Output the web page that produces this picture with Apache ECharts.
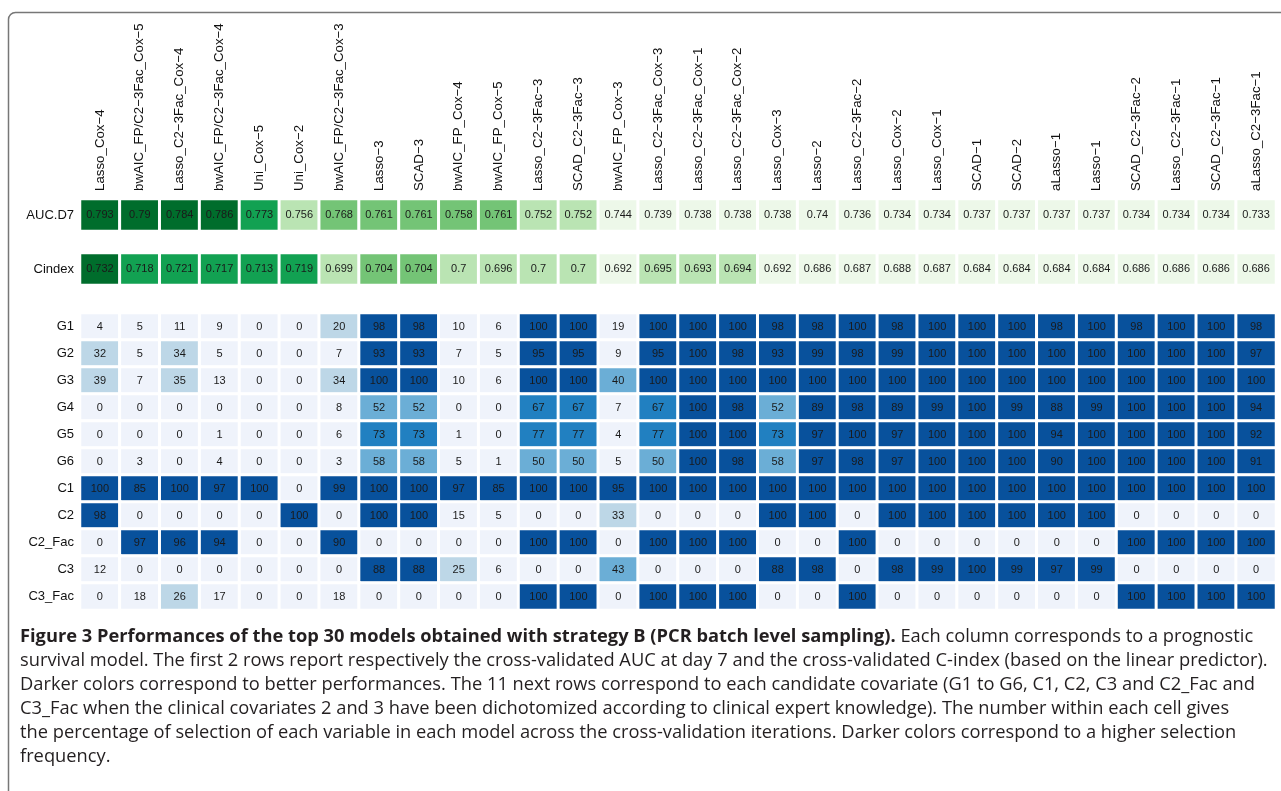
<!DOCTYPE html>
<html>
<head>
<meta charset="utf-8">
<script src="https://cdn.jsdelivr.net/npm/echarts@6/dist/echarts.min.js"></script>
<style>
  html, body { margin: 0; padding: 0; background: #fff; }
  #chart { width: 1281px; height: 791px; }
</style>
</head>
<body>
<div id="chart"></div>
<script>
// column labels (models)
var models = ["Lasso_Cox−4", "bwAIC_FP/C2−3Fac_Cox−5", "Lasso_C2−3Fac_Cox−4", "bwAIC_FP/C2−3Fac_Cox−4",
  "Uni_Cox−5", "Uni_Cox−2", "bwAIC_FP/C2−3Fac_Cox−3", "Lasso−3", "SCAD−3", "bwAIC_FP_Cox−4",
  "bwAIC_FP_Cox−5", "Lasso_C2−3Fac−3", "SCAD_C2−3Fac−3", "bwAIC_FP_Cox−3", "Lasso_C2−3Fac_Cox−3",
  "Lasso_C2−3Fac_Cox−1", "Lasso_C2−3Fac_Cox−2", "Lasso_Cox−3", "Lasso−2", "Lasso_C2−3Fac−2",
  "Lasso_Cox−2", "Lasso_Cox−1", "SCAD−1", "SCAD−2", "aLasso−1", "Lasso−1", "SCAD_C2−3Fac−2",
  "Lasso_C2−3Fac−1", "SCAD_C2−3Fac−1", "aLasso_C2−3Fac−1"];

var aucD7 = [0.793, 0.79, 0.784, 0.786, 0.773, 0.756, 0.768, 0.761, 0.761, 0.758, 0.761, 0.752, 0.752, 0.744,
  0.739, 0.738, 0.738, 0.738, 0.74, 0.736, 0.734, 0.734, 0.737, 0.737, 0.737, 0.737, 0.734, 0.734, 0.734, 0.733];
var cindex = [0.732, 0.718, 0.721, 0.717, 0.713, 0.719, 0.699, 0.704, 0.704, 0.7, 0.696, 0.7, 0.7, 0.692,
  0.695, 0.693, 0.694, 0.692, 0.686, 0.687, 0.688, 0.687, 0.684, 0.684, 0.684, 0.684, 0.686, 0.686, 0.686, 0.686];

// covariate rows
var covariates = ["G1", "G2", "G3", "G4", "G5", "G6", "C1", "C2", "C2_Fac", "C3", "C3_Fac"];
var G1 = [4, 5, 11, 9, 0, 0, 20, 98, 98, 10, 6, 100, 100, 19, 100, 100, 100, 98, 98, 100, 98, 100, 100, 100, 98, 100, 98, 100, 100, 98];
var G2 = [32, 5, 34, 5, 0, 0, 7, 93, 93, 7, 5, 95, 95, 9, 95, 100, 98, 93, 99, 98, 99, 100, 100, 100, 100, 100, 100, 100, 100, 97];
var G3 = [39, 7, 35, 13, 0, 0, 34, 100, 100, 10, 6, 100, 100, 40, 100, 100, 100, 100, 100, 100, 100, 100, 100, 100, 100, 100, 100, 100, 100, 100];
var G4 = [0, 0, 0, 0, 0, 0, 8, 52, 52, 0, 0, 67, 67, 7, 67, 100, 98, 52, 89, 98, 89, 99, 100, 99, 88, 99, 100, 100, 100, 94];
var G5 = [0, 0, 0, 1, 0, 0, 6, 73, 73, 1, 0, 77, 77, 4, 77, 100, 100, 73, 97, 100, 97, 100, 100, 100, 94, 100, 100, 100, 100, 92];
var G6 = [0, 3, 0, 4, 0, 0, 3, 58, 58, 5, 1, 50, 50, 5, 50, 100, 98, 58, 97, 98, 97, 100, 100, 100, 90, 100, 100, 100, 100, 91];
var C1 = [100, 85, 100, 97, 100, 0, 99, 100, 100, 97, 85, 100, 100, 95, 100, 100, 100, 100, 100, 100, 100, 100, 100, 100, 100, 100, 100, 100, 100, 100];
var C2 = [98, 0, 0, 0, 0, 100, 0, 100, 100, 15, 5, 0, 0, 33, 0, 0, 0, 100, 100, 0, 100, 100, 100, 100, 100, 100, 0, 0, 0, 0];
var C2_Fac = [0, 97, 96, 94, 0, 0, 90, 0, 0, 0, 0, 100, 100, 0, 100, 100, 100, 0, 0, 100, 0, 0, 0, 0, 0, 0, 100, 100, 100, 100];
var C3 = [12, 0, 0, 0, 0, 0, 0, 88, 88, 25, 6, 0, 0, 43, 0, 0, 0, 88, 98, 0, 98, 99, 100, 99, 97, 99, 0, 0, 0, 0];
var C3_Fac = [0, 18, 26, 17, 0, 0, 18, 0, 0, 0, 0, 100, 100, 0, 100, 100, 100, 0, 0, 100, 0, 0, 0, 0, 0, 0, 100, 100, 100, 100];
var covRows = [G1, G2, G3, G4, G5, G6, C1, C2, C2_Fac, C3, C3_Fac];

var captionLines = [
  "{b|Figure 3 Performances of the top 30 models obtained with strategy B (PCR batch level sampling).} Each column corresponds to a prognostic",
  "survival model. The first 2 rows report respectively the cross-validated AUC at day 7 and the cross-validated C-index (based on the linear predictor).",
  "Darker colors correspond to better performances. The 11 next rows correspond to each candidate covariate (G1 to G6, C1, C2, C3 and C2_Fac and",
  "C3_Fac when the clinical covariates 2 and 3 have been dichotomized according to clinical expert knowledge). The number within each cell gives",
  "the percentage of selection of each variable in each model across the cross-validation iterations. Darker colors correspond to a higher selection",
  "frequency."
];

var chart = echarts.init(document.getElementById("chart"));

var aucData = aucD7.map(function (v, i) { return [i, 0, v]; });
var cinData = cindex.map(function (v, i) { return [i, 0, v]; });
var covData = [];
covRows.forEach(function (row, r) {
  row.forEach(function (v, i) { covData.push([i, r, v]); });
});

var FONT = "Liberation Sans, Arial, sans-serif";
var CAP_FONT = "Open Sans, sans-serif";
var cellLabel = { show: true, color: "#1a1a1a", fontSize: 11, fontFamily: FONT };
var cellStyle = { borderColor: "#fff", borderWidth: 3 };

function xAx(idx, show) {
  return {
    type: "category", gridIndex: idx, data: models, position: "top",
    axisLine: { show: false }, axisTick: { show: false }, splitLine: { show: false },
    axisLabel: show ? { show: true, rotate: -90, margin: 8, color: "#111", fontSize: 13.3, fontFamily: FONT, interval: 0 } : { show: false }
  };
}
function yAx(idx, data) {
  return {
    type: "category", gridIndex: idx, data: data, inverse: true,
    axisLine: { show: false }, axisTick: { show: false }, splitLine: { show: false },
    axisLabel: { color: "#111", fontSize: 13, fontFamily: FONT, margin: 6, interval: 0 }
  };
}

var greens = ["#edf8e9", "#bae4b3", "#74c476", "#12a152", "#006d2c"];
var blues = ["#eff3fb", "#bdd7e7", "#6baed6", "#2180c1", "#08519c"];

var option = {
  animation: false,
  backgroundColor: "#fff",
  grid: [
    { left: 80, right: 5, top: 199, height: 32, outerBoundsMode: "none" },
    { left: 80, right: 5, top: 253, height: 32, outerBoundsMode: "none" },
    { left: 80, right: 5, top: 313, height: 297, outerBoundsMode: "none" }
  ],
  xAxis: [xAx(0, true), xAx(1, false), xAx(2, false)],
  yAxis: [yAx(0, ["AUC.D7"]), yAx(1, ["Cindex"]), yAx(2, covariates)],
  visualMap: [
    {
      type: "piecewise", show: false, seriesIndex: 0, dimension: 2,
      pieces: [
        { lt: 0.745, color: greens[0] },
        { gte: 0.745, lt: 0.757, color: greens[1] },
        { gte: 0.757, lt: 0.769, color: greens[2] },
        { gte: 0.769, lt: 0.781, color: greens[3] },
        { gte: 0.781, color: greens[4] }
      ]
    },
    {
      type: "piecewise", show: false, seriesIndex: 1, dimension: 2,
      pieces: [
        { lt: 0.6925, color: greens[0] },
        { gte: 0.6925, lt: 0.7032, color: greens[1] },
        { gte: 0.7032, lt: 0.7128, color: greens[2] },
        { gte: 0.7128, lt: 0.7224, color: greens[3] },
        { gte: 0.7224, color: greens[4] }
      ]
    },
    {
      type: "piecewise", show: false, seriesIndex: 2, dimension: 2,
      pieces: [
        { lt: 20, color: blues[0] },
        { gte: 20, lt: 40, color: blues[1] },
        { gte: 40, lt: 60, color: blues[2] },
        { gte: 60, lt: 80, color: blues[3] },
        { gte: 80, color: blues[4] }
      ]
    }
  ],
  series: [
    { type: "heatmap", xAxisIndex: 0, yAxisIndex: 0, data: aucData, label: cellLabel, itemStyle: cellStyle },
    { type: "heatmap", xAxisIndex: 1, yAxisIndex: 1, data: cinData, label: cellLabel, itemStyle: cellStyle },
    { type: "heatmap", xAxisIndex: 2, yAxisIndex: 2, data: covData, label: cellLabel, itemStyle: cellStyle }
  ],
  graphic: [
    {
      type: "rect", z: -1, silent: true,
      shape: { x: 8.5, y: 12.5, width: 1300, height: 820, r: 7 },
      style: { fill: "none", stroke: "#777", lineWidth: 1.5 }
    }
  ].concat(captionLines.map(function (line, i) {
    return {
      type: "text", left: 20, top: 628 + i * 24,
      style: {
        text: line, fill: "#231f20", fontSize: 18.3, fontFamily: CAP_FONT,
        rich: { b: { fontWeight: "bold", fontSize: 18.3, fontFamily: CAP_FONT, fill: "#231f20" } }
      }
    };
  }))
};

chart.setOption(option);
</script>
</body>
</html>
